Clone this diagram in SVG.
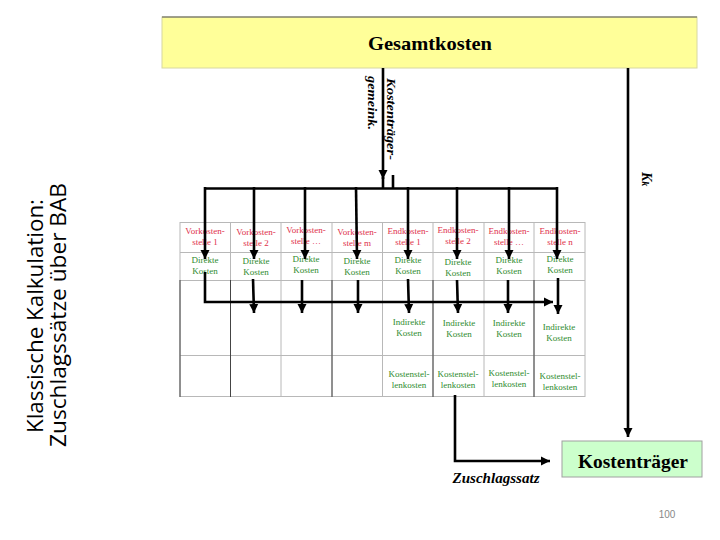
<svg xmlns="http://www.w3.org/2000/svg" width="720" height="540" viewBox="0 0 720 540">
<style>
.t{font-family:"Liberation Serif","Times New Roman",serif;font-size:9px;text-anchor:middle}
.r{fill:#e0304a}
.g{fill:#2e8b2e}
.grid{stroke:#b8b8b8;stroke-width:1;fill:none}
.dk{stroke:#444;stroke-width:1}
.c{stroke:#000;stroke-width:2.6;fill:none}
.big{font-family:"Liberation Serif","Times New Roman",serif;font-weight:bold;font-size:19px;text-anchor:middle;fill:#000}
.lab{font-family:"Liberation Serif","Times New Roman",serif;font-weight:bold;font-style:italic;fill:#000}
.ttl{font-family:"Open Sans","Noto Sans",sans-serif;font-size:21px;text-anchor:middle;fill:#000}
</style>
<defs>
<marker id="ah" markerUnits="userSpaceOnUse" markerWidth="10" markerHeight="10" refX="9" refY="5" orient="auto">
<path d="M0,0.5 L9,5 L0,9.5 Z" fill="#000"/>
</marker>
</defs>
<rect width="720" height="540" fill="#fff"/>

<g id="title">
<text class="ttl" transform="translate(43,316) rotate(-90)" textLength="234" lengthAdjust="spacingAndGlyphs">Klassische Kalkulation:</text>
<text class="ttl" transform="translate(66,315) rotate(-90)" textLength="264" lengthAdjust="spacingAndGlyphs">Zuschlagssätze über BAB</text>
</g>

<g id="gesamtkosten">
<rect x="162" y="17" width="535" height="51" fill="#ffff99" stroke="#d8d8a0" stroke-width="1"/>
<line x1="162" y1="17" x2="697" y2="17" stroke="#555" stroke-width="1.2"/>
<text x="430" y="50" class="big" textLength="124" lengthAdjust="spacingAndGlyphs">Gesamtkosten</text>
</g>

<g id="table">
<rect x="180" y="222.5" width="405" height="174" fill="#fff" class="grid"/>
<line class="grid" x1="180" y1="252.5" x2="585" y2="252.5"/>
<line class="grid" x1="180" y1="280.5" x2="585" y2="280.5"/>
<line class="grid" x1="180" y1="355.5" x2="585" y2="355.5"/>
<line class="grid" x1="230.5" y1="222" x2="230.5" y2="397"/>
<line class="grid" x1="281" y1="222" x2="281" y2="397"/>
<line class="grid" x1="332" y1="222" x2="332" y2="397"/>
<line class="grid" x1="382.5" y1="222" x2="382.5" y2="397"/>
<line class="grid" x1="433" y1="222" x2="433" y2="397"/>
<line class="grid" x1="484" y1="222" x2="484" y2="397"/>
<line class="grid" x1="534" y1="222" x2="534" y2="397"/>
<line class="dk" x1="180" y1="280" x2="180" y2="397"/>
<line class="dk" x1="230.5" y1="280" x2="230.5" y2="397"/>
<line class="dk" x1="332" y1="280" x2="332" y2="397"/>
<line class="dk" x1="433" y1="280" x2="433" y2="397"/>
<line class="dk" x1="534" y1="280" x2="534" y2="397"/>
</g>

<g id="kopfzeile">
<text class="t r" x="205" y="234">Vorkosten-<tspan x="205" dy="11">stelle 1</tspan></text>
<text class="t r" x="256" y="235">Vorkosten-<tspan x="256" dy="11">stelle 2</tspan></text>
<text class="t r" x="306" y="233">Vorkosten-<tspan x="306" dy="11">stelle …</tspan></text>
<text class="t r" x="357" y="235">Vorkosten-<tspan x="357" dy="11">stelle m</tspan></text>
<text class="t r" x="408" y="234">Endkosten-<tspan x="408" dy="11">stelle 1</tspan></text>
<text class="t r" x="458" y="233">Endkosten-<tspan x="458" dy="11">stelle 2</tspan></text>
<text class="t r" x="509" y="234">Endkosten-<tspan x="509" dy="11">stelle …</tspan></text>
<text class="t r" x="560" y="234">Endkosten-<tspan x="560" dy="11">stelle n</tspan></text>
</g>

<g id="direkte">
<text class="t g" x="205" y="263">Direkte<tspan x="205" dy="11">Kosten</tspan></text>
<text class="t g" x="256" y="264">Direkte<tspan x="256" dy="11">Kosten</tspan></text>
<text class="t g" x="306" y="262">Direkte<tspan x="306" dy="11">Kosten</tspan></text>
<text class="t g" x="357" y="264">Direkte<tspan x="357" dy="11">Kosten</tspan></text>
<text class="t g" x="408" y="263">Direkte<tspan x="408" dy="11">Kosten</tspan></text>
<text class="t g" x="458" y="265">Direkte<tspan x="458" dy="11">Kosten</tspan></text>
<text class="t g" x="509" y="263">Direkte<tspan x="509" dy="11">Kosten</tspan></text>
<text class="t g" x="560" y="262">Direkte<tspan x="560" dy="11">Kosten</tspan></text>
</g>

<g id="indirekte">
<text class="t g" x="409" y="325">Indirekte<tspan x="409" dy="11">Kosten</tspan></text>
<text class="t g" x="459" y="326">Indirekte<tspan x="459" dy="11">Kosten</tspan></text>
<text class="t g" x="509" y="326">Indirekte<tspan x="509" dy="11">Kosten</tspan></text>
<text class="t g" x="559" y="330">Indirekte<tspan x="559" dy="11">Kosten</tspan></text>
</g>

<g id="kostenstellenkosten">
<text class="t g" x="409" y="377">Kostenstel-<tspan x="409" dy="11">lenkosten</tspan></text>
<text class="t g" x="458" y="377">Kostenstel-<tspan x="458" dy="11">lenkosten</tspan></text>
<text class="t g" x="509" y="376">Kostenstel-<tspan x="509" dy="11">lenkosten</tspan></text>
<text class="t g" x="560" y="379">Kostenstel-<tspan x="560" dy="11">lenkosten</tspan></text>
</g>

<g id="kostentraeger">
<rect x="562" y="441" width="140" height="36" fill="#ccffcc" stroke="#a0a0a0" stroke-width="1"/>
<text x="633" y="468" class="big" textLength="110" lengthAdjust="spacingAndGlyphs">Kostenträger</text>
</g>

<g id="connectors">
<line class="c" x1="383" y1="68" x2="383" y2="179" marker-end="url(#ah)"/>
<line class="c" x1="383" y1="177" x2="383" y2="189"/>
<line class="c" x1="393" y1="175" x2="393" y2="189"/>
<line class="c" x1="204" y1="188.5" x2="558" y2="188.5"/>
<line class="c" x1="205" y1="187" x2="205" y2="259" marker-end="url(#ah)"/>
<line class="c" x1="254" y1="187" x2="254" y2="259" marker-end="url(#ah)"/>
<line class="c" x1="305" y1="187" x2="305" y2="259" marker-end="url(#ah)"/>
<line class="c" x1="356" y1="187" x2="357" y2="259" marker-end="url(#ah)"/>
<line class="c" x1="408" y1="187" x2="408" y2="259" marker-end="url(#ah)"/>
<line class="c" x1="457" y1="187" x2="457" y2="259" marker-end="url(#ah)"/>
<line class="c" x1="509" y1="187" x2="509" y2="259" marker-end="url(#ah)"/>
<line class="c" x1="557" y1="187" x2="557" y2="259" marker-end="url(#ah)"/>
<path class="c" d="M205,272 L205,302 L553,302" marker-end="url(#ah)"/>
<line class="c" x1="253" y1="279" x2="254" y2="313" marker-end="url(#ah)"/>
<line class="c" x1="302" y1="280" x2="302" y2="313" marker-end="url(#ah)"/>
<line class="c" x1="358" y1="280" x2="358" y2="313" marker-end="url(#ah)"/>
<line class="c" x1="408" y1="279" x2="409" y2="313" marker-end="url(#ah)"/>
<line class="c" x1="457" y1="280" x2="458" y2="313" marker-end="url(#ah)"/>
<line class="c" x1="508" y1="280" x2="508" y2="313" marker-end="url(#ah)"/>
<line class="c" x1="558" y1="278" x2="558" y2="314" marker-end="url(#ah)"/>
<path class="c" d="M455,395 L455,461 L550,461" marker-end="url(#ah)"/>
<line class="c" x1="628" y1="68" x2="628" y2="437" marker-end="url(#ah)"/>
</g>

<g id="labels">
<text class="lab" transform="translate(387,78) rotate(90)" font-size="13.5" textLength="82" lengthAdjust="spacingAndGlyphs">Kostenträger-</text>
<text class="lab" transform="translate(368,76) rotate(90)" font-size="13.5" textLength="54" lengthAdjust="spacingAndGlyphs">gemeink.</text>
<text class="lab" transform="translate(642,172) rotate(90)" font-size="14">K<tspan font-size="10">k</tspan></text>
<text class="lab" x="496" y="483" text-anchor="middle" font-size="14" textLength="87" lengthAdjust="spacingAndGlyphs">Zuschlagssatz</text>
<text x="667" y="518" text-anchor="middle" font-family="Liberation Sans,Arial,sans-serif" font-size="10" fill="#888">100</text>
</g>
</svg>
